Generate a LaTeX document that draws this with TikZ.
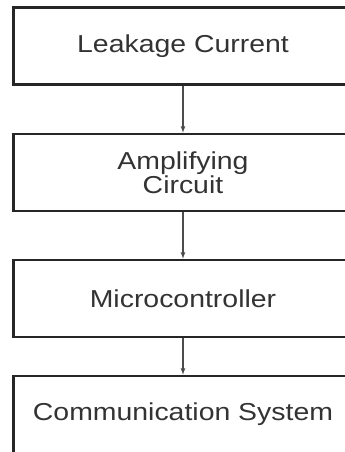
\documentclass[tikz,border=0pt]{standalone}
\usepackage{fontspec}
\setmainfont{Liberation Sans}[FakeStretch=1.16]

\begin{document}
\begin{tikzpicture}[x=1pt,y=1pt,
    block/.style={draw=black!85, line width=2.6pt, rectangle,
      minimum width=339pt, minimum height=77pt, align=center,
      text=black!80, font=\fontsize{24.5}{24}\selectfont},
    flow/.style={->, >=latex, draw=black!70, line width=1.2pt}]
      \useasboundingbox (0,0) rectangle (345,-452);

      \node[block] (LC) at (183, -46) {Leakage Current};
      \node[block] (AC) at (183, -172.5) {Amplifying\\Circuit};
      \node[block] (MC) at (183, -298.5) {Microcontroller};
      \node[block] (CS) at (183, -414.5) {Communication System};

      \draw[flow] (LC) to (AC);
      \draw[flow] (AC) to (MC);
      \draw[flow] (MC) to (CS);
    \end{tikzpicture}
\end{document}
